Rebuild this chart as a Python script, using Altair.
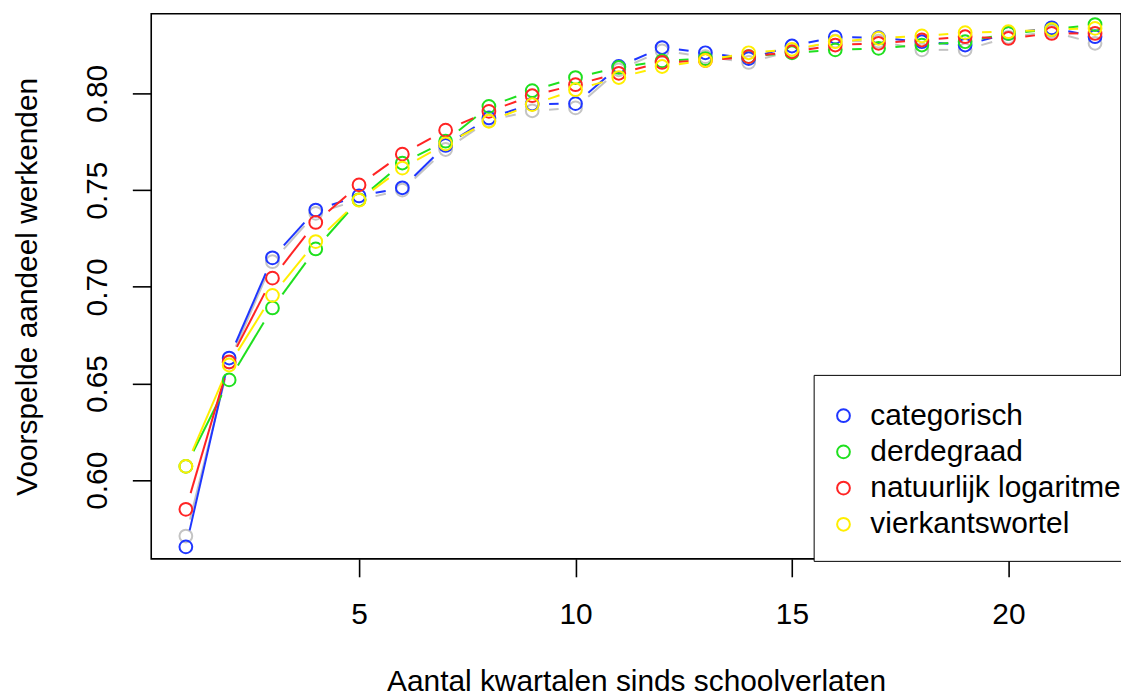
import math
import altair as alt
import pandas as pd

# ---- data ----
quarters = list(range(1, 23))
series_names = ["categorisch", "derdegraad", "natuurlijk logaritme", "vierkantswortel"]
series_colors = ["#1f36ff", "#1fe01f", "#ff2424", "#ffee00"]
grey_color = "#c4c4c4"

categorisch = [0.5656, 0.6632, 0.7150, 0.7397, 0.7470, 0.7512, 0.7731, 0.7873, 0.7945, 0.7947, 0.8139,
               0.8237, 0.8210, 0.8180, 0.8245, 0.8291, 0.8288, 0.8267, 0.8250, 0.8310, 0.8339, 0.8293]
derdegraad = [0.6072, 0.6519, 0.6891, 0.7196, 0.7450, 0.7640, 0.7753, 0.7933, 0.8014, 0.8082, 0.8134,
              0.8168, 0.8180, 0.8190, 0.8210, 0.8225, 0.8233, 0.8250, 0.8267, 0.8310, 0.8330, 0.8356]
natuurlijk_logaritme = [0.5850, 0.6612, 0.7045, 0.7333, 0.7527, 0.7686, 0.7810, 0.7907, 0.7988, 0.8045, 0.8104,
                        0.8160, 0.8170, 0.8190, 0.8215, 0.8250, 0.8259, 0.8276, 0.8293, 0.8284, 0.8310, 0.8310]
vierkantswortel = [0.6072, 0.6596, 0.6956, 0.7234, 0.7448, 0.7614, 0.7739, 0.7856, 0.7942, 0.8019, 0.8082,
                   0.8139, 0.8170, 0.8210, 0.8228, 0.8267, 0.8285, 0.8297, 0.8314, 0.8319, 0.8330, 0.8336]
grijs = [0.5712, 0.6610, 0.7130, 0.7380, 0.7450, 0.7500, 0.7710, 0.7860, 0.7910, 0.7925, 0.8122,
         0.8220, 0.8190, 0.8160, 0.8220, 0.8270, 0.8270, 0.8225, 0.8225, 0.8290, 0.8320, 0.8259]

x_ticks = [5, 10, 15, 20]
y_ticks = [0.60, 0.65, 0.70, 0.75, 0.80]

# ---- chart geometry ----
W, H = 975, 548
XDOM = [0.2, 22.6]
YDOM = [0.55938, 0.84113]
GAP = 17.0  # px gap between a point and its connecting segment (R type="b")
FONT = "Liberation Sans"

px_x = W / (XDOM[1] - XDOM[0])
px_y = H / (YDOM[1] - YDOM[0])


def points_df(name, values):
    return pd.DataFrame({"x": quarters, "y": values, "series": name})


def segments_df(name, values):
    rows = []
    for i in range(len(quarters) - 1):
        x1, y1, x2, y2 = quarters[i], values[i], quarters[i + 1], values[i + 1]
        dx = (x2 - x1) * px_x
        dy = (y2 - y1) * px_y
        L = math.hypot(dx, dy)
        if L <= 2 * GAP:
            continue
        f = GAP / L
        rows.append({
            "x": x1 + (x2 - x1) * f, "y": y1 + (y2 - y1) * f,
            "x2": x2 - (x2 - x1) * f, "y2": y2 - (y2 - y1) * f,
            "series": name,
        })
    return pd.DataFrame(rows)


all_series = [categorisch, derdegraad, natuurlijk_logaritme, vierkantswortel]
pts = pd.concat([points_df(n, v) for n, v in zip(series_names, all_series)], ignore_index=True)
segs = pd.concat([segments_df(n, v) for n, v in zip(series_names, all_series)], ignore_index=True)
grey_pts = points_df("grijs", grijs)
grey_segs = segments_df("grijs", grijs)

xs = alt.Scale(domain=XDOM, nice=False, zero=False)
ys = alt.Scale(domain=YDOM, nice=False, zero=False)

x_axis = alt.Axis(values=x_ticks, title="Aantal kwartalen sinds schoolverlaten", grid=False, domain=False,
                  tickSize=18, tickWidth=1.6, tickColor="black", labelFlush=False,
                  labelFontSize=30, labelFont=FONT, labelColor="black",
                  labelBaseline="alphabetic", labelPadding=47,
                  titleFontSize=30, titleFont=FONT, titleFontWeight="normal", titleColor="black",
                  titleBaseline="alphabetic", titleY=132, titleX=W / 2, titleAlign="center")
y_axis = alt.Axis(values=y_ticks, format=".2f", title="Voorspelde aandeel werkenden", grid=False, domain=False,
                  tickSize=19, tickWidth=1.6, tickColor="black", labelFlush=False,
                  labelFontSize=30, labelFont=FONT, labelColor="black",
                  labelAngle=270, labelAlign="center", labelBaseline="alphabetic", labelPadding=26,
                  titleFontSize=30, titleFont=FONT, titleFontWeight="normal", titleColor="black",
                  titleAngle=270, titleBaseline="alphabetic", titleAlign="center", titleX=-115, titleY=H / 2)

color_scale = alt.Scale(domain=series_names, range=series_colors)
legend = alt.Legend(title=" ", titleFontSize=1, titlePadding=4, orient="none", legendX=666, legendY=363,
                    symbolType="circle", symbolSize=165, symbolStrokeWidth=2, symbolOffset=-6,
                    labelFontSize=30, labelFont=FONT, labelColor="black", labelLimit=0,
                    strokeColor="black", fillColor="white", padding=21,
                    rowPadding=6.4, labelOffset=12)

grey_lines = alt.Chart(grey_segs).mark_rule(strokeWidth=2, color=grey_color).encode(
    x=alt.X("x:Q", scale=xs, axis=x_axis), y=alt.Y("y:Q", scale=ys, axis=y_axis), x2="x2:Q", y2="y2:Q")
grey_points = alt.Chart(grey_pts).mark_point(filled=False, size=165, strokeWidth=2, color=grey_color, opacity=1).encode(
    x=alt.X("x:Q", scale=xs), y=alt.Y("y:Q", scale=ys))

lines = alt.Chart(segs).mark_rule(strokeWidth=2).encode(
    x=alt.X("x:Q", scale=xs), y=alt.Y("y:Q", scale=ys), x2="x2:Q", y2="y2:Q",
    color=alt.Color("series:N", scale=color_scale, legend=legend))
points = alt.Chart(pts).mark_point(filled=False, size=165, strokeWidth=2, opacity=1).encode(
    x=alt.X("x:Q", scale=xs), y=alt.Y("y:Q", scale=ys),
    color=alt.Color("series:N", scale=color_scale, legend=legend))

chart = alt.layer(grey_lines, grey_points, lines, points).properties(
    width=W, height=H,
    autosize=alt.AutoSizeParams(type="none"),
    padding={"left": 144, "top": 4, "right": 0, "bottom": 137},
).configure(background="white", view=alt.ViewConfig(stroke="black", strokeWidth=1.6))

chart.save("out.html", embed_options={"renderer": "svg", "actions": False})
